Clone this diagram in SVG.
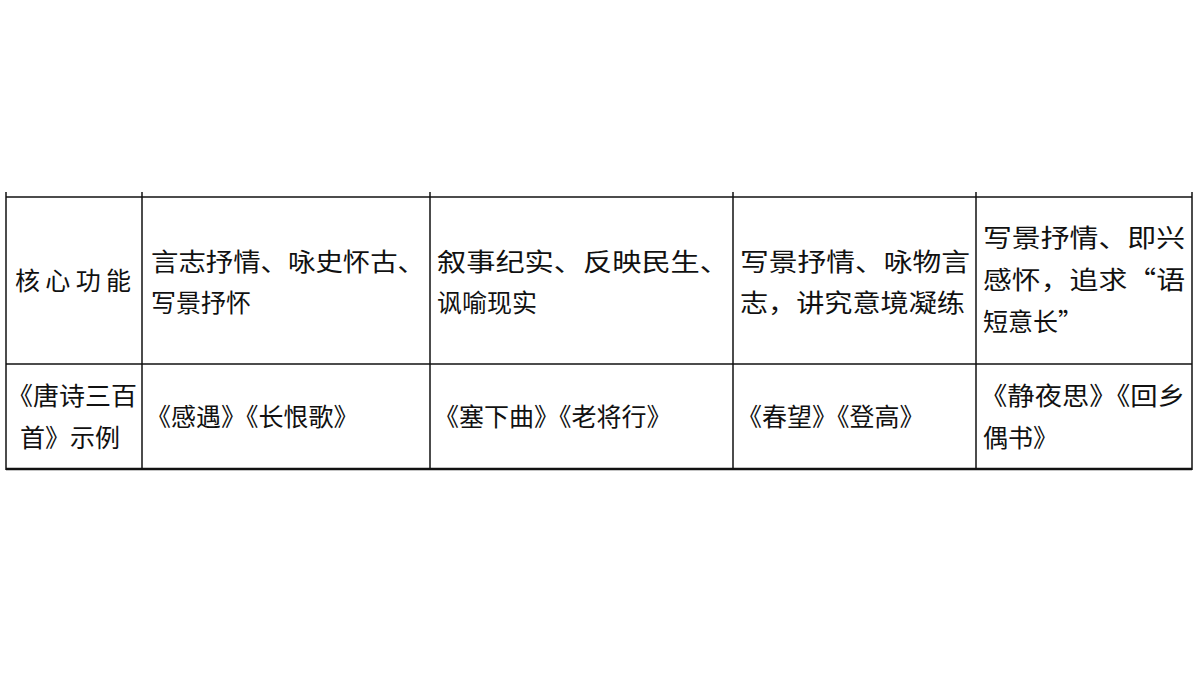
<svg xmlns="http://www.w3.org/2000/svg" width="1200" height="675" viewBox="0 0 1200 675">
<style>
text{font-family:"Noto Sans CJK SC","Noto Sans",sans-serif;font-size:25px;fill:#111}
.l{stroke:#111;stroke-width:1.5;fill:none}
</style>
<rect width="1200" height="675" fill="#fff"/>
<g id="grid">
<line class="l" x1="6" y1="197" x2="1192" y2="197"/>
<line class="l" x1="6" y1="364" x2="1192" y2="364"/>
<line x1="6" y1="469" x2="1192" y2="469" stroke="#111" stroke-width="2.5"/>
<line class="l" x1="6" y1="192" x2="6" y2="470"/>
<line class="l" x1="142" y1="192" x2="142" y2="470"/>
<line class="l" x1="430" y1="192" x2="430" y2="470"/>
<line class="l" x1="733" y1="192" x2="733" y2="470"/>
<line class="l" x1="976" y1="192" x2="976" y2="470"/>
<line class="l" x1="1192" y1="192" x2="1192" y2="470"/>
</g>
<g id="r1">
<text x="15" y="290" textLength="116" lengthAdjust="spacing">核心功能</text>
<text x="151" y="271" textLength="274" lengthAdjust="spacingAndGlyphs">言志抒情、咏史怀古、</text>
<text x="151" y="312">写景抒怀</text>
<text x="437" y="271" textLength="292" lengthAdjust="spacingAndGlyphs">叙事纪实、反映民生、</text>
<text x="437" y="312">讽喻现实</text>
<text x="740" y="271" textLength="230" lengthAdjust="spacingAndGlyphs">写景抒情、咏物言</text>
<text x="740" y="312" textLength="225" lengthAdjust="spacingAndGlyphs">志，讲究意境凝练</text>
<text x="983" y="247" textLength="202" lengthAdjust="spacingAndGlyphs">写景抒情、即兴</text>
<text x="983" y="289" textLength="202" lengthAdjust="spacingAndGlyphs">感怀，追求“语</text>
<text x="983" y="331">短意长”</text>
</g>
<g id="r2">
<text x="7" y="405" textLength="130" lengthAdjust="spacingAndGlyphs">《唐诗三百</text>
<text x="20" y="447">首》示例</text>
<text x="146" y="426">《感遇》《长恨歌》</text>
<text x="434" y="426">《塞下曲》《老将行》</text>
<text x="737" y="426">《春望》《登高》</text>
<text x="980" y="405" textLength="205" lengthAdjust="spacingAndGlyphs">《静夜思》《回乡</text>
<text x="983" y="447">偶书》</text>
</g>
</svg>
